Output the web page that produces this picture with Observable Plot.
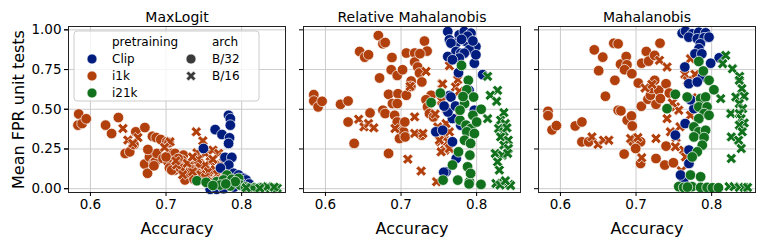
<!DOCTYPE html>
<html><head><meta charset="utf-8">
<script src="https://cdn.jsdelivr.net/npm/d3@7"></script>
<script src="https://cdn.jsdelivr.net/npm/@observablehq/plot@0.6"></script>
<style>
body{margin:0;background:#fff;}
#chart{width:762px;height:243px;}
</style>
</head><body><div id="chart"></div>
<script>
const methods = ["MaxLogit", "Relative Mahalanobis", "Mahalanobis"];
const pretrainings = ["Clip", "i1k", "i21k"];
const archs = ["B/32", "B/16"];
const xTicks = [0.6, 0.7, 0.8];
const yTicks = [0, 0.25, 0.5, 0.75, 1];

// MaxLogit
const maxLogit_i1k_B32 = [[0.5845,0.47],[0.5835,0.40],[0.589,0.41],[0.5945,0.44],[0.620,0.40],[0.637,0.448],[0.628,0.347],[0.646,0.222],[0.652,0.232],[0.6575,0.278],[0.660,0.358],[0.672,0.385],[0.6717,0.155],[0.6755,0.097],[0.678,0.20],[0.682,0.33],[0.687,0.322],[0.693,0.31],[0.684,0.165],[0.6858,0.17],[0.688,0.222],[0.696,0.19],[0.7027,0.169],[0.707,0.222],[0.701,0.295],[0.704,0.29],[0.7116,0.117],[0.7045,0.13],[0.684,0.144],[0.712,0.222],[0.723,0.211],[0.714,0.159],[0.7253,0.149],[0.7075,0.117],[0.723,0.107],[0.732,0.138],[0.736,0.169],[0.725,0.055],[0.7385,0.075],[0.7474,0.128],[0.721,0.18],[0.727,0.14],[0.731,0.15],[0.735,0.12],[0.744,0.14],[0.753,0.12],[0.757,0.10],[0.716,0.19],[0.729,0.10],[0.741,0.10],[0.748,0.085],[0.719,0.13],[0.745,0.16],[0.737,0.06],[0.700,0.20],[0.676,0.247]];
const maxLogit_i1k_B16 = [[0.643,0.379],[0.6495,0.306],[0.6628,0.322],[0.656,0.285],[0.740,0.358],[0.7487,0.301],[0.7408,0.226],[0.7518,0.222],[0.762,0.243],[0.7695,0.222],[0.776,0.20],[0.7584,0.169],[0.7717,0.149],[0.7827,0.122],[0.7518,0.149],[0.714,0.149],[0.756,0.107],[0.7651,0.12],[0.735,0.107],[0.778,0.075],[0.746,0.088],[0.722,0.088],[0.7053,0.295],[0.698,0.26],[0.728,0.16],[0.742,0.185],[0.762,0.185],[0.768,0.09],[0.752,0.07],[0.772,0.06],[0.713,0.175],[0.735,0.2],[0.76,0.05]];
const maxLogit_clip_B32 = [[0.7827,0.462],[0.785,0.441],[0.785,0.40],[0.765,0.372],[0.774,0.341],[0.784,0.32],[0.7827,0.285],[0.7495,0.253],[0.778,0.197],[0.787,0.197],[0.783,0.149],[0.7894,0.097],[0.796,0.086],[0.8027,0.065],[0.806,0.055],[0.7584,-0.004],[0.767,-0.004],[0.776,0.0],[0.79,0.01],[0.80,0.02],[0.81,0.03],[0.772,0.13],[0.798,0.04]];
const maxLogit_i21k_B32 = [[0.7408,0.05],[0.753,0.04],[0.767,0.044],[0.7806,0.086],[0.776,0.055],[0.787,0.059],[0.796,0.065],[0.7717,0.023],[0.785,0.017],[0.798,0.023],[0.7916,0.044],[0.762,0.02],[0.805,0.01],[0.779,0.03]];
const maxLogit_i21k_B16 = [[0.8116,0.009],[0.82,0.009],[0.829,0.009],[0.838,0.003],[0.847,0.003],[0.815,0.004],[0.834,0.012],[0.843,0.01],[0.824,0.003],[0.806,0.006]];

// Relative Mahalanobis
const relMaha_i1k_B32 = [[0.5846,0.592],[0.5846,0.552],[0.5903,0.515],[0.5956,0.55],[0.620,0.531],[0.630,0.552],[0.630,0.42],[0.638,0.285],[0.6453,0.864],[0.652,0.828],[0.657,0.843],[0.659,0.477],[0.670,0.964],[0.676,0.912],[0.679,0.92],[0.6716,0.697],[0.676,0.494],[0.679,0.473],[0.6835,0.594],[0.687,0.749],[0.688,0.826],[0.6835,0.222],[0.6915,0.462],[0.695,0.713],[0.696,0.598],[0.6887,0.536],[0.695,0.536],[0.696,0.414],[0.697,0.379],[0.698,0.316],[0.702,0.749],[0.7035,0.358],[0.7055,0.326],[0.707,0.854],[0.707,0.588],[0.7134,0.678],[0.718,0.854],[0.718,0.797],[0.722,0.766],[0.7244,0.728],[0.7275,0.672],[0.7275,0.337],[0.731,0.929],[0.7345,0.866],[0.7398,0.588],[0.733,0.56],[0.735,0.515],[0.7376,0.473],[0.743,0.452],[0.713,0.644],[0.725,0.85],[0.695,0.42],[0.705,0.42]];
const relMaha_i1k_B16 = [[0.644,0.437],[0.651,0.389],[0.657,0.41],[0.664,0.383],[0.692,0.379],[0.718,0.452],[0.718,0.348],[0.729,0.348],[0.709,0.186],[0.7266,0.111],[0.747,0.044],[0.733,0.738],[0.754,0.661],[0.753,0.556],[0.757,0.343],[0.752,0.295],[0.758,0.243],[0.764,0.774],[0.775,0.686],[0.755,0.659],[0.772,0.64],[0.777,0.613],[0.754,0.55],[0.7486,0.389],[0.7595,0.41],[0.7507,0.306],[0.762,0.295],[0.764,0.358],[0.753,0.232],[0.764,0.253],[0.745,0.47],[0.76,0.5],[0.77,0.45],[0.712,0.644]];
const relMaha_clip_B32 = [[0.7618,0.989],[0.764,0.937],[0.777,0.969],[0.7836,0.99],[0.7925,0.979],[0.786,0.927],[0.7727,0.916],[0.766,0.916],[0.799,0.895],[0.790,0.875],[0.7727,0.864],[0.7618,0.832],[0.779,0.853],[0.7836,0.853],[0.777,0.822],[0.797,0.79],[0.799,0.843],[0.808,0.718],[0.768,0.812],[0.764,0.586],[0.746,0.358],[0.755,0.368],[0.768,0.295],[0.773,0.19],[0.7595,0.107],[0.768,0.442],[0.797,0.494],[0.779,0.4],[0.7565,0.103],[0.766,0.577],[0.762,0.483],[0.788,0.96],[0.78,0.94],[0.795,0.93],[0.757,0.52],[0.772,0.52],[0.79,0.62],[0.776,0.73]];
const relMaha_i21k_B32 = [[0.7398,0.542],[0.752,0.602],[0.780,0.776],[0.789,0.682],[0.787,0.623],[0.796,0.577],[0.806,0.5],[0.778,0.431],[0.786,0.4],[0.7925,0.379],[0.787,0.358],[0.797,0.347],[0.776,0.232],[0.791,0.211],[0.768,0.149],[0.788,0.138],[0.7556,0.054],[0.775,0.054],[0.7905,0.044],[0.8057,0.027],[0.792,0.096],[0.784,0.536],[0.778,0.494],[0.795,0.462],[0.784,0.305],[0.792,0.285],[0.79,0.03],[0.782,0.58],[0.8,0.42]];
const relMaha_i21k_B16 = [[0.8145,0.707],[0.8277,0.619],[0.818,0.588],[0.8264,0.55],[0.8145,0.441],[0.836,0.479],[0.8317,0.431],[0.838,0.41],[0.829,0.379],[0.836,0.358],[0.8317,0.326],[0.8418,0.305],[0.836,0.274],[0.842,0.253],[0.8246,0.222],[0.834,0.211],[0.8277,0.169],[0.83,0.117],[0.8255,0.033],[0.836,0.038],[0.843,0.027],[0.831,0.023],[0.841,0.222],[0.84,0.383],[0.845,0.02],[0.838,0.05]];

// Mahalanobis
const maha_i1k_B32 = [[0.5836,0.487],[0.5836,0.46],[0.5889,0.37],[0.5947,0.397],[0.6196,0.395],[0.6284,0.42],[0.6284,0.295],[0.6373,0.295],[0.6448,0.874],[0.656,0.828],[0.6506,0.743],[0.6595,0.582],[0.6706,0.916],[0.6763,0.912],[0.672,0.682],[0.6795,0.784],[0.687,0.832],[0.688,0.78],[0.6848,0.749],[0.6763,0.494],[0.68,0.49],[0.6883,0.431],[0.694,0.458],[0.695,0.395],[0.6945,0.724],[0.703,0.665],[0.6843,0.218],[0.6959,0.295],[0.706,0.295],[0.6995,0.253],[0.706,0.159],[0.707,0.519],[0.7075,0.79],[0.7136,0.864],[0.7166,0.803],[0.7246,0.682],[0.7246,0.839],[0.7317,0.916],[0.7157,0.563],[0.719,0.588],[0.721,0.63],[0.7264,0.531],[0.73,0.62],[0.7322,0.567],[0.7397,0.661],[0.7264,0.19],[0.738,0.149],[0.7397,0.268],[0.7494,0.163],[0.744,0.602]];
const maha_i1k_B16 = [[0.6417,0.326],[0.6497,0.279],[0.657,0.305],[0.664,0.305],[0.6928,0.316],[0.7024,0.322],[0.7075,0.195],[0.712,0.634],[0.721,0.657],[0.731,0.808],[0.741,0.766],[0.7264,0.316],[0.741,0.441],[0.752,0.515],[0.7455,0.358],[0.753,0.322],[0.760,0.113],[0.7645,0.72],[0.772,0.818],[0.778,0.72],[0.7743,0.573],[0.772,0.462],[0.763,0.243],[0.7654,0.2],[0.752,0.264],[0.7565,0.494],[0.748,0.54],[0.768,0.68],[0.758,0.39]];
const maha_clip_B32 = [[0.761,0.979],[0.7654,0.992],[0.7743,0.975],[0.783,0.985],[0.792,0.981],[0.7698,0.954],[0.781,0.944],[0.79,0.95],[0.7965,0.954],[0.785,0.912],[0.7832,0.881],[0.778,0.849],[0.787,0.849],[0.81,0.824],[0.7987,0.79],[0.7645,0.766],[0.7698,0.661],[0.7876,0.703],[0.781,0.672],[0.7765,0.504],[0.765,0.41],[0.752,0.337],[0.77,0.243],[0.77,0.159],[0.763,0.044],[0.7588,0.086],[0.772,0.56]];
const maha_i21k_B32 = [[0.783,0.801],[0.789,0.741],[0.752,0.594],[0.741,0.504],[0.7676,0.577],[0.7965,0.682],[0.803,0.623],[0.7854,0.567],[0.792,0.577],[0.783,0.515],[0.794,0.515],[0.79,0.473],[0.783,0.441],[0.7965,0.462],[0.7765,0.389],[0.783,0.358],[0.792,0.368],[0.7765,0.326],[0.79,0.322],[0.7876,0.274],[0.781,0.232],[0.7743,0.2],[0.772,0.086],[0.7854,0.075],[0.7565,0.013],[0.763,0.008],[0.774,0.013],[0.7854,0.008],[0.794,0.008],[0.801,0.006],[0.809,0.006],[0.768,0.01]];
const maha_i21k_B16 = [[0.8186,0.839],[0.8146,0.787],[0.8275,0.755],[0.837,0.707],[0.8366,0.682],[0.840,0.63],[0.812,0.567],[0.832,0.577],[0.843,0.582],[0.8366,0.536],[0.841,0.504],[0.8253,0.473],[0.8366,0.473],[0.839,0.441],[0.843,0.414],[0.8366,0.4],[0.8404,0.358],[0.826,0.326],[0.8357,0.305],[0.8392,0.253],[0.826,0.19],[0.823,0.013],[0.8297,0.013],[0.8366,0.008],[0.843,0.008],[0.8475,0.008]];

const colors = ["#001c7f", "#b1400d", "#12711c"];

const rows = [];
function add(method, pre, arch, arr) { for (const [acc, fpr] of arr) rows.push({method, pre, arch, acc, fpr}); }
add(methods[0], "i1k", "B/32", maxLogit_i1k_B32);
add(methods[0], "i1k", "B/16", maxLogit_i1k_B16);
add(methods[0], "Clip", "B/32", maxLogit_clip_B32);
add(methods[0], "i21k", "B/32", maxLogit_i21k_B32);
add(methods[0], "i21k", "B/16", maxLogit_i21k_B16);
add(methods[1], "i1k", "B/32", relMaha_i1k_B32);
add(methods[1], "i1k", "B/16", relMaha_i1k_B16);
add(methods[1], "Clip", "B/32", relMaha_clip_B32);
add(methods[1], "i21k", "B/32", relMaha_i21k_B32);
add(methods[1], "i21k", "B/16", relMaha_i21k_B16);
add(methods[2], "i1k", "B/32", maha_i1k_B32);
add(methods[2], "i1k", "B/16", maha_i1k_B16);
add(methods[2], "Clip", "B/32", maha_clip_B32);
add(methods[2], "i21k", "B/32", maha_i21k_B32);
add(methods[2], "i21k", "B/16", maha_i21k_B16);

// thick filled "X" marker
const thickX = {
  draw(ctx, size) {
    const r = Math.sqrt(size / Math.PI);
    const a = r * 1.05, w = r * 0.34, c = Math.SQRT1_2;
    const pts = [[-w,-a],[w,-a],[w,-w],[a,-w],[a,w],[w,w],[w,a],[-w,a],[-w,w],[-a,w],[-a,-w],[-w,-w]];
    pts.forEach(([x, y], i) => { const X = (x - y) * c, Y = (x + y) * c; i ? ctx.lineTo(X, Y) : ctx.moveTo(X, Y); });
    ctx.closePath();
  }
};

const FONT = "DejaVu Sans, sans-serif";
const chart = Plot.plot({
  width: 762, height: 243,
  marginLeft: 68, marginRight: 7, marginTop: 26, marginBottom: 51,
  style: {fontFamily: FONT, fontSize: "13px", color: "#000", background: "#fff", overflow: "visible"},
  fx: {domain: methods, paddingInner: 0.077, paddingOuter: 0, label: null},
  x: {domain: [0.571, 0.858]},
  y: {domain: [-0.024, 1.021]},
  color: {domain: pretrainings, range: colors},
  symbol: {domain: archs, range: [d3.symbolCircle, thickX]},
  marks: [
    Plot.gridX(xTicks, {stroke: "#cbcbcb", strokeOpacity: 1, strokeWidth: 1}),
    Plot.gridY(yTicks, {stroke: "#cbcbcb", strokeOpacity: 1, strokeWidth: 1}),
    Plot.dot(rows, {fx: "method", x: "acc", y: "fpr", fill: "pre", symbol: "arch", r: 5.3, stroke: "white", strokeWidth: 0.7}),
    Plot.frame({stroke: "#222", strokeWidth: 1}),
    Plot.axisFx({anchor: "top", tickSize: 0, tickPadding: 5, fontSize: 14, label: null}),
    Plot.axisY(yTicks, {tickFormat: d => d.toFixed(2), label: null, tickSize: 4, tickPadding: 3, fontSize: 13.5}),
    Plot.axisY(yTicks, {tickFormat: () => "", label: null, tickSize: 4, facetAnchor: null}),
    Plot.axisX(xTicks, {tickFormat: d => d.toFixed(1), label: null, tickSize: 4, tickPadding: 3, fontSize: 13.5}),
    Plot.text(["Accuracy"], {frameAnchor: "bottom", dy: 36, fontSize: 16, lineAnchor: "middle"}),
    Plot.text([{m: methods[0]}], {fx: "m", text: () => "Mean FPR unit tests", frameAnchor: "left", textAnchor: "middle", rotate: -90, dx: -50, fontSize: 16, lineAnchor: "middle"})
  ]
});
document.getElementById("chart").appendChild(chart);

// legend inside the first panel
const svg = d3.select(chart.tagName.toLowerCase() === "svg" ? chart : chart.querySelector("svg"));
const lg = svg.append("g").attr("font-family", FONT).attr("font-size", 12).attr("fill", "#000").attr("text-anchor", "start");
lg.append("rect").attr("x", 74).attr("y", 31).attr("width", 185).attr("height", 70).attr("rx", 3)
  .attr("fill", "white").attr("fill-opacity", 0.8).attr("stroke", "#cccccc");
const rowY = [42, 59, 76, 93];
lg.append("text").attr("x", 112).attr("y", rowY[0]).attr("dy", "0.35em").text("pretraining");
pretrainings.forEach((p, i) => {
  lg.append("circle").attr("cx", 92).attr("cy", rowY[i + 1]).attr("r", 5).attr("fill", colors[i]).attr("stroke", "white").attr("stroke-width", 0.7);
  lg.append("text").attr("x", 112).attr("y", rowY[i + 1]).attr("dy", "0.35em").text(p);
});
lg.append("text").attr("x", 212).attr("y", rowY[0]).attr("dy", "0.35em").text("arch");
archs.forEach((a, i) => {
  lg.append("path").attr("transform", `translate(191,${rowY[i + 1]})`)
    .attr("d", d3.symbol(i === 0 ? d3.symbolCircle : thickX, Math.PI * 25)())
    .attr("fill", "#3a3a3a").attr("stroke", "white").attr("stroke-width", 0.7);
  lg.append("text").attr("x", 212).attr("y", rowY[i + 1]).attr("dy", "0.35em").text(a);
});
</script>
</body></html>
